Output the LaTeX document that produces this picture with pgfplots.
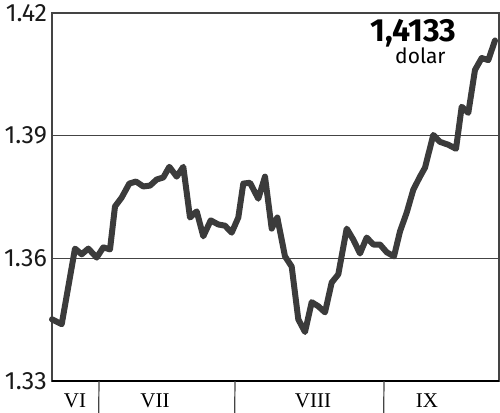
\documentclass[border=0pt]{standalone}
\usepackage{pgfplots}
\pgfplotsset{compat=1.18}
\usepackage{fontspec}
\setmainfont{Fira Sans}
\newfontfamily\serifm{Liberation Serif}
\definecolor{linec}{HTML}{3B3B3B}
\definecolor{gridc}{HTML}{444444}

\begin{document}
\begin{tikzpicture}
\useasboundingbox (-26pt,-16pt) rectangle (224pt,190.5pt);
\begin{axis}[
  scale only axis,
  width=223.5pt, height=184pt,
  xmin=52, xmax=499,
  ymin=1.33, ymax=1.42,
  ytick={1.33,1.36,1.39,1.42},
  /pgf/number format/fixed,
  /pgf/number format/precision=2,
  /pgf/number format/fixed zerofill,
  /pgf/number format/assume math mode=true,
  y tick label style={font=\fontsize{12.5}{14}\selectfont, color=black!90, xshift=1pt},
  ymajorgrids,
  major grid style={gridc, line width=0.75pt},
  major tick length=0pt,
  tick style={draw=none},
  xtick={75,155,313,427},
  xticklabels={VI,VII,VIII,IX},
  x tick label style={font=\serifm\fontsize{10.5}{12}\selectfont, yshift=-3pt},
  axis line style={gridc, line width=0.7pt},
  clip=false,
]
\addplot[linec, line width=3pt, line join=round, line cap=round] coordinates {
(52,1.3451) (61.7,1.3439) (75,1.3624) (81.7,1.3610) (88.3,1.3624) (96.7,1.3602)
(103.3,1.3627) (110,1.3622) (115,1.3727) (121.7,1.3749) (129.3,1.3783) (136,1.3788)
(143.3,1.3776) (150,1.3778) (156.7,1.3793) (163.3,1.3798) (169.3,1.3824) (176.7,1.3800)
(183.3,1.3824) (190,1.3700) (196.7,1.3715) (203.3,1.3654) (210.7,1.3693) (218.3,1.3683)
(225,1.3680) (231.7,1.3663) (238.3,1.3700) (243.3,1.3783) (250,1.3785) (258.3,1.3746)
(265,1.3800) (271.7,1.3673) (277.3,1.3700) (285,1.3605) (291.7,1.3580) (298.3,1.3451)
(305,1.3420) (311.7,1.3493) (318.3,1.3483) (325,1.3468) (331.7,1.3541) (338.3,1.3561)
(346.7,1.3673) (353.3,1.3646) (360,1.3612) (366.7,1.3651) (373.3,1.3634) (380,1.3634)
(386.7,1.3615) (394,1.3605) (400,1.3666) (406.7,1.3712) (413.3,1.3768) (420,1.3800)
(425,1.3822) (433.3,1.3902) (440,1.3885) (448.3,1.3878) (456,1.3868) (461.7,1.3971)
(468.3,1.3956) (475,1.4061) (481.7,1.4090) (488.3,1.4085) (495,1.4133)
};
\node[anchor=base east, inner sep=0pt, font=\bfseries\fontsize{16}{18}\selectfont]
  at (axis cs:457,1.41295) {1,4133};
\node[anchor=base east, inner sep=0pt, font=\fontsize{10.5}{12}\selectfont]
  at (axis cs:446,1.40760) {dolar};
\draw[black, line width=1.3pt] (axis cs:52,1.33) -- (axis cs:499,1.33);
% month separators
\draw[gridc, line width=0.6pt] (axis cs:99,1.33) -- ++(0,-10pt);
\draw[gridc, line width=0.6pt] (axis cs:235,1.33) -- ++(0,-10pt);
\draw[gridc, line width=0.6pt] (axis cs:384,1.33) -- ++(0,-10pt);
\end{axis}
\end{tikzpicture}
\end{document}
